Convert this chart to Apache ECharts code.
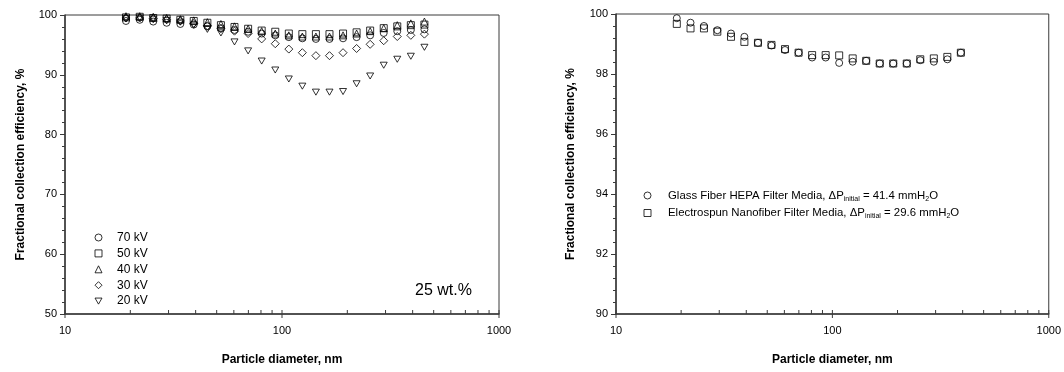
<!DOCTYPE html>
<html>
<head>
<meta charset="utf-8">
<script src="https://cdn.jsdelivr.net/npm/echarts@6/dist/echarts.min.js"></script>
<style>
  html, body { margin: 0; padding: 0; background: #fff; }
  #chart { width: 1064px; height: 372px; }
</style>
</head>
<body>
<div id="chart"></div>
<script>
// Particle diameters (nm), SMPS channel midpoints
const diameters = [19.1, 22.1, 25.5, 29.4, 34.0, 39.2, 45.3, 52.3, 60.4, 69.8, 80.6, 93.1,
                   107.5, 124.1, 143.3, 165.5, 191.1, 220.7, 254.8, 294.3, 339.8, 392.4, 453.2];

// Fractional collection efficiency (%), 25 wt.% solution, by applied voltage
const eff70kV = [99.0, 99.2, 98.9, 98.7, 98.5, 98.4, 98.1, 97.8, 97.5, 97.2, 96.9, 96.6,
                 96.3, 96.1, 96.0, 96.0, 96.1, 96.3, 96.6, 97.0, 97.3, 97.5, 97.6];
const eff50kV = [99.6, 99.7, 99.5, 99.4, 99.2, 99.0, 98.7, 98.3, 98.0, 97.7, 97.4, 97.2,
                 96.9, 96.8, 96.8, 96.8, 96.9, 97.1, 97.4, 97.8, 98.1, 98.3, 98.4];
const eff40kV = [99.8, 99.8, 99.7, 99.5, 99.3, 99.1, 98.8, 98.5, 98.1, 97.7, 97.3, 96.9,
                 96.6, 96.4, 96.4, 96.4, 96.6, 96.9, 97.3, 97.8, 98.3, 98.6, 98.9];
const eff30kV = [99.5, 99.5, 99.4, 99.2, 99.0, 98.6, 98.2, 97.7, 97.3, 96.9, 96.0, 95.2,
                 94.3, 93.7, 93.2, 93.2, 93.7, 94.4, 95.1, 95.7, 96.4, 96.6, 96.8];
const eff20kV = [99.4, 99.5, 99.3, 99.1, 98.8, 98.3, 97.6, 97.0, 95.5, 94.0, 92.3, 90.8,
                 89.3, 88.1, 87.1, 87.1, 87.2, 88.5, 89.8, 91.6, 92.6, 93.1, 94.6];

// Filter media comparison (first 22 channels)
const diametersMedia = diameters.slice(0, 22);
const effGlassHepa = [99.86, 99.71, 99.60, 99.46, 99.35, 99.24, 99.04, 98.95, 98.80, 98.71, 98.55,
                      98.55, 98.37, 98.41, 98.44, 98.35, 98.35, 98.35, 98.46, 98.41, 98.49, 98.71];
const effNanofiber = [99.67, 99.52, 99.52, 99.41, 99.24, 99.07, 99.04, 98.97, 98.83, 98.71, 98.63,
                      98.63, 98.62, 98.52, 98.44, 98.35, 98.35, 98.35, 98.49, 98.52, 98.57, 98.71];

// Log-axis tick positions
const xTicks = [10, 20, 30, 40, 50, 60, 70, 80, 90, 100, 200, 300, 400, 500, 600, 700, 800, 900, 1000];
const xMajorTicks = [10, 100, 1000];

const voltageNames = ['70 kV', '50 kV', '40 kV', '30 kV', '20 kV'];
const mediaNames = ['Glass Fiber HEPA Filter Media, ΔP{sub|initial} = 41.4 mmH{sub|2}O',
                    'Electrospun Nanofiber Filter Media, ΔP{sub|initial} = 29.6 mmH{sub|2}O'];

const FONT = '"Liberation Sans", Arial, sans-serif';
const INK = '#000';
const AXIS = '#3a3a3a';
const DOWN_TRIANGLE = 'path://M0,0 L10,0 L5,8.66 Z';
const SQUARE_DIAMOND = 'path://M5,0 L10,5 L5,10 L0,5 Z';

function pairs(xs, ys) { return xs.map((x, i) => [x, ys[i]]); }

function tickSeries(gridIdx, yMin) {
  return {
    type: 'custom',
    xAxisIndex: gridIdx, yAxisIndex: gridIdx,
    silent: true, z: 5,
    data: xTicks.map(v => [v, yMin]),
    renderItem: function (params, api) {
      const v = api.value(0);
      const p = api.coord([v, api.value(1)]);
      const major = xMajorTicks.indexOf(v) >= 0;
      return {
        type: 'line',
        shape: { x1: p[0], y1: p[1] + (major ? 4 : 0), x2: p[0], y2: p[1] - 4 },
        style: { stroke: AXIS, lineWidth: 1 }
      };
    }
  };
}

function scatter(name, gridIdx, xs, ys, symbol, size) {
  return {
    name: name, type: 'scatter',
    xAxisIndex: gridIdx, yAxisIndex: gridIdx,
    symbol: symbol, symbolSize: size || 7, symbolKeepAspect: true,
    itemStyle: { color: 'rgba(255,255,255,0)', borderColor: INK, borderWidth: 1 },
    emphasis: { disabled: true },
    data: pairs(xs, ys), z: 3
  };
}

function xAxis(gridIdx) {
  return {
    type: 'log', logBase: 10, gridIndex: gridIdx, min: 10, max: 1000,
    name: 'Particle diameter, nm', nameLocation: 'middle', nameGap: 40,
    nameTextStyle: { fontFamily: FONT, fontSize: 12, fontWeight: 'bold', color: INK },
    axisLine: { show: true, lineStyle: { color: AXIS, width: 1.5 } },
    axisTick: { show: false },
    splitLine: { show: false },
    axisLabel: { fontFamily: FONT, fontSize: 11, color: INK, margin: 11,
                 formatter: v => String(Math.round(v)) }
  };
}

function yAxis(gridIdx, min, max, interval, gap) {
  return {
    type: 'value', gridIndex: gridIdx, min: min, max: max, interval: interval,
    name: 'Fractional collection efficiency, %', nameLocation: 'middle', nameGap: gap,
    nameTextStyle: { fontFamily: FONT, fontSize: 12, fontWeight: 'bold', color: INK },
    axisLine: { show: true, lineStyle: { color: AXIS, width: 1.5 } },
    axisTick: { show: true, inside: false, length: 5, lineStyle: { color: AXIS } },
    minorTick: { show: true, splitNumber: 5, length: 3, lineStyle: { color: AXIS } },
    splitLine: { show: false },
    axisLabel: { fontFamily: FONT, fontSize: 11, color: INK, margin: 8 }
  };
}

const subRich = {
  sub: { fontFamily: FONT, fontSize: 7, color: INK, lineHeight: 7, verticalAlign: 'bottom' }
};

const legendIcons = { '70 kV': 'circle', '50 kV': 'rect', '40 kV': 'triangle',
                      '30 kV': SQUARE_DIAMOND, '20 kV': DOWN_TRIANGLE };

const option = {
  animation: false,
  backgroundColor: '#fff',
  grid: [
    { left: 65, top: 15, width: 434, height: 299, show: true, borderColor: AXIS, borderWidth: 1 },
    { left: 616, top: 14, width: 433, height: 300, show: true, borderColor: AXIS, borderWidth: 1 }
  ],
  xAxis: [xAxis(0), xAxis(1)],
  yAxis: [yAxis(0, 50, 100, 10, 38), yAxis(1, 90, 100, 2, 39)],
  legend: [
    {
      data: voltageNames.map(n => ({ name: n, icon: legendIcons[n] })),
      orient: 'vertical', left: 94.5, top: 231.5, padding: 0,
      itemWidth: 7, itemHeight: 7, itemGap: 3.9,
      itemStyle: { color: 'rgba(255,255,255,0)', borderColor: INK, borderWidth: 1 },
      textStyle: { fontFamily: FONT, fontSize: 12, color: INK, lineHeight: 12,
                   padding: [0, 0, 0, 10] },
      selectedMode: false
    },
    {
      data: [{ name: 'glass', icon: 'circle' }, { name: 'nano', icon: 'rect' }],
      orient: 'vertical', left: 643.5, top: 188.5, padding: 0,
      itemWidth: 7, itemHeight: 7, itemGap: 3.5,
      itemStyle: { color: 'rgba(255,255,255,0)', borderColor: INK, borderWidth: 1 },
      formatter: function (n) { return n === 'glass' ? mediaNames[0] : mediaNames[1]; },
      textStyle: { fontFamily: FONT, fontSize: 11.4, color: INK, lineHeight: 14,
                   padding: [0, 0, 0, 12], rich: subRich },
      selectedMode: false
    }
  ],
  graphic: [
    { type: 'text', left: 415, top: 283,
      style: { text: '25 wt.%', font: '16px ' + FONT, fill: INK } }
  ],
  series: [
    scatter('70 kV', 0, diameters, eff70kV, 'circle'),
    scatter('50 kV', 0, diameters, eff50kV, 'rect'),
    scatter('40 kV', 0, diameters, eff40kV, 'triangle'),
    scatter('30 kV', 0, diameters, eff30kV, SQUARE_DIAMOND, 8),
    scatter('20 kV', 0, diameters, eff20kV, DOWN_TRIANGLE),
    scatter('glass', 1, diametersMedia, effGlassHepa, 'circle'),
    scatter('nano', 1, diametersMedia, effNanofiber, 'rect'),
    tickSeries(0, 50),
    tickSeries(1, 90)
  ]
};

const chart = echarts.init(document.getElementById('chart'), null, { renderer: 'canvas' });
chart.setOption(option);
</script>
</body>
</html>
